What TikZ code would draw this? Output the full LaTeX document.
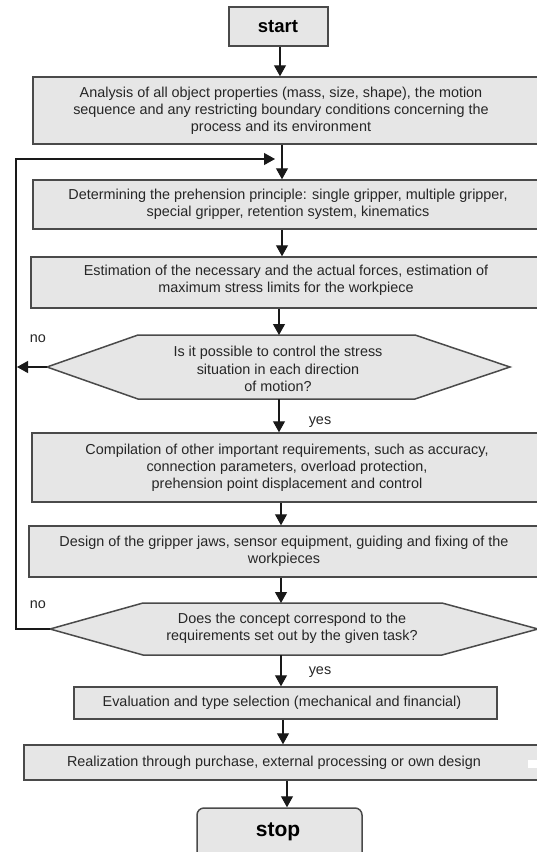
\documentclass[tikz,border=0pt]{standalone}
\usepackage{fontspec}
\setmainfont{Liberation Sans}
\usetikzlibrary{arrows.meta}
\definecolor{boxfill}{HTML}{E6E6E6}
\definecolor{boxline}{HTML}{4A4A4A}
\definecolor{txtc}{HTML}{262626}
\begin{document}
\begin{tikzpicture}[x=1pt,y=-1pt,
  box/.style={draw=boxline, line width=1.5pt, fill=boxfill, inner sep=0pt},
  hex/.style={draw=boxline, line width=1.5pt, fill=boxfill},
  txt/.style={font=\fontsize{14.4}{17.2}\selectfont, text=txtc, align=center, inner sep=0pt},
  lbl/.style={font=\fontsize{14.4}{17.2}\selectfont, text=txtc, inner sep=0pt},
  big/.style={font=\bfseries\fontsize{18.5}{20}\selectfont, text=black, inner sep=0pt},
  arr/.style={-{Triangle[width=12pt,length=11pt]}, line width=1.2pt, draw=black!90},
  line/.style={line width=1.2pt, draw=black!90}]
\useasboundingbox (0,0) rectangle (537,852);
\clip (0,0) rectangle (537,852);
\fill[white] (0,0) rectangle (537,852);

% boxes
\node[box, minimum width=99pt, minimum height=39pt] (start) at (278.5,26.5) {};
\node[box, minimum width=507pt, minimum height=67pt] (b1) at (286.5,110.5) {};
\node[box, minimum width=507pt, minimum height=49pt] (b2) at (286.5,204.5) {};
\node[box, minimum width=509pt, minimum height=51pt] (b3) at (285.5,282.5) {};
\node[box, minimum width=508pt, minimum height=69pt] (b4) at (286,467.5) {};
\node[box, minimum width=511pt, minimum height=51pt] (b5) at (284.5,551.5) {};
\node[box, minimum width=423pt, minimum height=32pt] (b6) at (285.5,703) {};
\node[box, minimum width=516pt, minimum height=35pt] (b7) at (282,762.5) {};
\node[box, rounded corners=7pt, minimum width=165pt, minimum height=58pt] (stop) at (279.5,837) {};
\fill[white] (528,760) rectangle (537,768);

% hexagons
\coordinate (h1w) at (47,367);  \coordinate (h1nw) at (138,335);
\coordinate (h1ne) at (415,335); \coordinate (h1e) at (510,367);
\coordinate (h1se) at (415,399); \coordinate (h1sw) at (138,399);
\draw[hex] (h1w) -- (h1nw) -- (h1ne) -- (h1e) -- (h1se) -- (h1sw) -- cycle;
\coordinate (h2w) at (50,629);  \coordinate (h2nw) at (143,603);
\coordinate (h2ne) at (442,603); \coordinate (h2e) at (538,629);
\coordinate (h2se) at (442,655); \coordinate (h2sw) at (143,655);
\draw[hex] (h2w) -- (h2nw) -- (h2ne) -- (h2e) -- (h2se) -- (h2sw) -- cycle;

% texts
\node[big] (tstart) at (278,27) {start};
\node[big, font=\bfseries\fontsize{21}{23}\selectfont] (tstop) at (278,832) {stop};
\node[txt] (t1) at (281,110.5) {Analysis of all object properties (mass, size, shape), the motion\\sequence and any restricting boundary conditions concerning the\\process and its environment};
\node[txt] (t2) at (288,204) {Determining the prehension principle: single gripper, multiple gripper,\\special gripper, retention system, kinematics};
\node[txt] (t3) at (286,280.5) {Estimation of the necessary and the actual forces, estimation of\\maximum stress limits for the workpiece};
\node[txt] (th1) at (278,369) {Is it possible to control the stress\\situation in each direction\\of motion?};
\node[txt] (t4) at (287,467.5) {Compilation of other important requirements, such as accuracy,\\connection parameters, overload protection,\\prehension point displacement and control};
\node[txt] (t5) at (284,551) {Design of the gripper jaws, sensor equipment, guiding and fixing of the\\workpieces};
\node[txt] (th2) at (292,628.5) {Does the concept correspond to the\\requirements set out by the given task?};
\node[txt] (t6) at (282,703) {Evaluation and type selection (mechanical and financial)};
\node[txt] (t7) at (274,763) {Realization through purchase, external processing or own design};
\node[lbl] (no1) at (38,339) {no};
\node[lbl] (no2) at (38,605) {no};
\node[lbl] (yes1) at (320,422) {yes};
\node[lbl] (yes2) at (320,672) {yes};

% columns
\coordinate (c280) at (280,0);
\coordinate (c282) at (282,0);
\coordinate (c279) at (279,0);
\coordinate (c281) at (281,0);
\coordinate (c283) at (283,0);
\coordinate (c287) at (287,0);

% connectors
\draw[arr] (start.south -| c280) -- (b1.north -| c280);
\draw[arr] (b1.south -| c282) -- (b2.north -| c282);
\draw[arr] (b2.south -| c282) -- (b3.north -| c282);
\draw[arr] (b3.south -| c279) -- (h1nw -| c279);
\draw[arr] (h1sw -| c279) -- (b4.north -| c279);
\draw[arr] (b4.south -| c281) -- (b5.north -| c281);
\draw[arr] (b5.south -| c281) -- (h2nw -| c281);
\draw[arr] (h2sw -| c281) -- (b6.north -| c281);
\draw[arr] (b6.south -| c283) -- (b7.north -| c283);
\draw[arr] (b7.south -| c287) -- (stop.north -| c287);

\coordinate (noEnd) at (17,367);
\draw[arr] (h1w) -- (noEnd);
\coordinate (loopL) at (16,629);
\coordinate (loopT) at (16,159);
\coordinate (loopEnd) at (275,159);
\draw[arr] (h2w) -- (loopL) -- (loopT) -- (loopEnd);
\end{tikzpicture}
\end{document}
